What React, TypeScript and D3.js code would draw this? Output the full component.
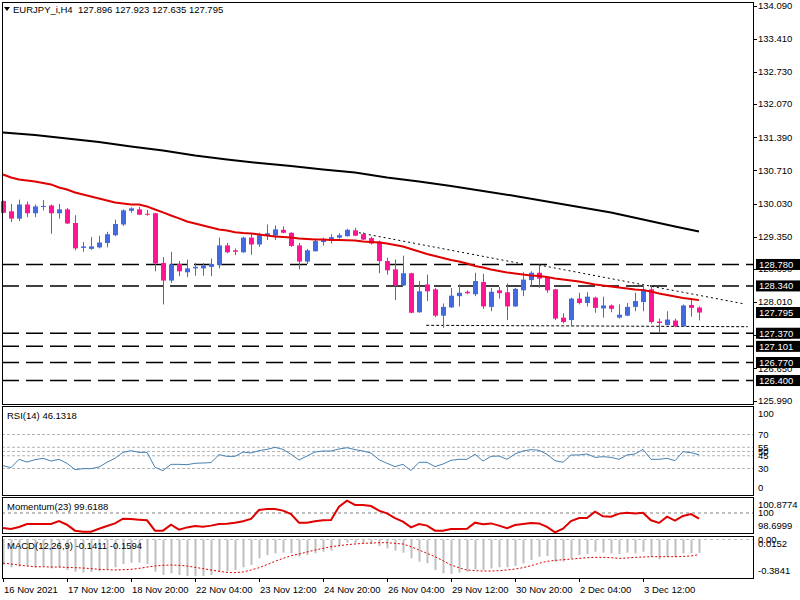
import * as d3 from "d3";

// EURJPY_i H4, one value per bar (bar 0 = 16 Nov 2021 04:00)
const opens = [
  130.08, 129.87, 129.72, 130.01, 129.83, 129.97, 129.99, 129.83, 129.91, 129.63,
  129.12, 129.1, 129.13, 129.22, 129.38, 129.6, 129.88, 129.91, 129.82, 129.83,
  128.81, 128.45, 128.79, 128.62, 128.7, 128.7, 128.73, 128.77, 129.17, 129.07,
  129.03, 129.33, 129.19, 129.37, 129.37, 129.49, 129.43, 129.17, 128.84, 129.05,
  129.24, 129.28, 129.33, 129.36, 129.48, 129.4, 129.32, 129.25, 128.85, 128.68,
  128.35, 128.6, 127.8, 128.37, 128.27, 127.73, 127.9, 128.13, 128.22, 128.17,
  128.42, 127.91, 128.25, 128.21, 127.92, 128.25, 128.46, 128.61, 128.51, 128.27,
  127.69, 127.64, 128.08, 127.99, 128.1, 127.88, 127.94, 127.69, 127.73, 127.91,
  128.01, 128.27, 127.61, 127.54, 127.63, 127.51, 127.95, 127.896,
];
const highs = [
  130.09, 130.02, 130.11, 130.07, 130.01, 130.1, 130.01, 130.02, 129.94, 129.79,
  129.24, 129.34, 129.37, 129.45, 129.7, 129.91, 129.95, 129.96, 129.9, 129.84,
  128.93, 129.04, 128.85, 128.88, 128.81, 128.81, 128.9, 129.33, 129.22, 129.11,
  129.35, 129.4, 129.43, 129.6, 129.58, 129.56, 129.44, 129.22, 129.1, 129.31,
  129.33, 129.4, 129.42, 129.51, 129.53, 129.44, 129.35, 129.27, 128.92, 128.88,
  128.96, 128.61, 128.44, 128.57, 128.3, 127.98, 128.3, 128.37, 128.25, 128.61,
  128.59, 128.3, 128.32, 128.39, 128.3, 128.62, 128.64, 128.78, 128.53, 128.28,
  127.78, 128.1, 128.2, 128.21, 128.12, 128.12, 127.96, 127.96, 127.99, 128.2,
  128.35, 128.35, 127.67, 127.82, 127.67, 127.96, 128.05, 127.923,
];
const lows = [
  129.83, 129.65, 129.67, 129.75, 129.75, 129.89, 129.41, 129.72, 129.61, 129.07,
  129.04, 129.08, 129.11, 129.13, 129.36, 129.57, 129.84, 129.79, 129.78, 128.64,
  127.96, 128.4, 128.54, 128.52, 128.55, 128.55, 128.54, 128.7, 129.01, 128.97,
  129.02, 128.98, 129.14, 129.28, 129.28, 129.42, 129.14, 128.68, 128.79, 129.05,
  129.17, 129.21, 129.31, 129.35, 129.36, 129.28, 129.19, 128.6, 128.57, 128.05,
  128.34, 127.78, 127.79, 128.03, 127.7, 127.48, 127.89, 127.92, 128.17, 128.13,
  127.87, 127.82, 128.08, 127.64, 127.91, 128.13, 128.33, 128.3, 128.2, 127.64,
  127.57, 127.51, 127.96, 127.92, 127.79, 127.69, 127.8, 127.67, 127.72, 127.82,
  127.82, 127.57, 127.37, 127.53, 127.5, 127.5, 127.71, 127.635,
];
const closes = [
  129.84, 129.72, 130.01, 129.83, 129.97, 129.98, 129.83, 129.91, 129.62, 129.11,
  129.15, 129.15, 129.23, 129.4, 129.61, 129.89, 129.93, 129.8, 129.8, 128.8,
  128.45, 128.78, 128.64, 128.7, 128.73, 128.76, 128.79, 129.17, 129.03, 129.04,
  129.33, 129.19, 129.38, 129.42, 129.5, 129.43, 129.16, 128.84, 129.07, 129.26,
  129.29, 129.34, 129.38, 129.49, 129.37, 129.29, 129.21, 128.85, 128.66, 128.35,
  128.6, 127.79, 128.23, 128.23, 127.73, 127.91, 128.14, 128.2, 128.19, 128.44,
  127.92, 128.22, 128.19, 127.92, 128.28, 128.47, 128.61, 128.49, 128.25, 127.67,
  127.6, 128.08, 127.99, 128.12, 127.89, 127.94, 127.87, 127.75, 127.91, 128.03,
  128.27, 127.6, 127.58, 127.65, 127.51, 127.94, 127.89, 127.795,
];

// red moving average, one value per bar
const redMa = [
  130.626, 130.564, 130.523, 130.503, 130.482, 130.451, 130.421, 130.359, 130.318, 130.257,
  130.216, 130.175, 130.134, 130.093, 130.052, 130.031, 130.011, 130.011, 129.97, 129.908,
  129.847, 129.785, 129.724, 129.662, 129.621, 129.58, 129.539, 129.498, 129.478, 129.443,
  129.426, 129.416, 129.396, 129.375, 129.355, 129.344, 129.334, 129.314, 129.303, 129.293,
  129.293, 129.283, 129.283, 129.279, 129.272, 129.252, 129.242, 129.232, 129.211, 129.18,
  129.15, 129.098, 129.047, 128.996, 128.955, 128.914, 128.873, 128.842, 128.801, 128.75,
  128.719, 128.678, 128.647, 128.616, 128.596, 128.575, 128.555, 128.545, 128.524, 128.494,
  128.473, 128.453, 128.432, 128.401, 128.371, 128.35, 128.33, 128.309, 128.289, 128.268,
  128.254, 128.227, 128.186, 128.155, 128.125, 128.094, 128.073, 128.049,
];

// black moving average, read every fourth bar
const blackMaBars = [0, 4, 8, 12, 16, 20, 24, 28, 32, 36, 40, 44, 48, 52, 56, 60, 64, 68, 72, 76, 80, 84, 87];
const blackMa = [
  131.487, 131.435, 131.364, 131.292, 131.2, 131.118, 131.015, 130.933, 130.861, 130.8,
  130.728, 130.667, 130.564, 130.482, 130.39, 130.287, 130.185, 130.072, 129.959, 129.847,
  129.703, 129.56, 129.457,
];

const rsi = [
  33.3, 31.0, 40.8, 37.6, 40.4, 42.0, 38.8, 40.8, 36.1, 28.6,
  29.8, 29.8, 31.8, 37.3, 42.0, 49.0, 51.0, 49.0, 49.0, 31.4,
  27.5, 34.9, 34.9, 34.5, 36.1, 36.5, 36.9, 46.3, 44.3, 44.3,
  49.4, 48.2, 51.0, 52.5, 54.9, 52.5, 46.7, 40.0, 44.7, 49.4,
  50.6, 50.6, 52.9, 54.5, 52.2, 50.6, 48.2, 40.4, 36.1, 32.2,
  34.9, 27.5, 37.3, 37.3, 32.2, 35.3, 39.6, 40.8, 40.8, 46.7,
  38.8, 44.3, 44.7, 40.8, 47.1, 50.6, 52.2, 51.4, 46.7, 39.2,
  37.3, 45.9, 45.9, 47.1, 43.1, 43.9, 43.1, 40.8, 45.9, 47.1,
  52.5, 40.8, 40.8, 42.0, 39.2, 49.8, 48.6, 46.1318,
];
const rsiLevels = [70, 55, 50, 45, 30];

const momentum = [
  98.99, 98.92, 99.06, 99.26, 99.26, 99.26, 99.26, 99.46, 99.21, 98.81,
  98.74, 98.74, 98.94, 99.12, 99.3, 99.62, 99.6, 99.55, 99.51, 98.81,
  98.81, 99.21, 98.88, 99.03, 99.12, 99.08, 99.15, 99.26, 99.28, 99.35,
  99.44, 99.6, 100.2, 100.27, 100.27, 100.16, 99.93, 99.35, 99.35, 99.44,
  99.51, 99.53, 100.43, 100.83, 100.54, 100.54, 100.47, 100.16, 99.98, 99.66,
  99.42, 99.03, 99.26, 99.15, 98.81, 98.81, 98.92, 98.92, 98.94, 99.35,
  99.24, 99.3, 99.15, 98.97, 99.19, 99.26, 99.33, 99.3, 99.06, 98.7,
  98.94, 99.46, 99.66, 99.66, 100.09, 99.78, 99.75, 99.96, 100.02, 99.96,
  100.02, 99.51, 99.33, 99.75, 99.48, 99.8, 99.93, 99.6188,
];

const macdMain = [
  -0.269, -0.293, -0.286, -0.279, -0.293, -0.279, -0.304, -0.293, -0.321, -0.339,
  -0.349, -0.342, -0.335, -0.314, -0.293, -0.258, -0.244, -0.244, -0.258, -0.339,
  -0.374, -0.356, -0.374, -0.384, -0.384, -0.384, -0.374, -0.339, -0.335, -0.321,
  -0.293, -0.269, -0.199, -0.164, -0.146, -0.139, -0.146, -0.181, -0.164, -0.146,
  -0.129, -0.118, -0.069, -0.034, -0.041, -0.041, -0.048, -0.069, -0.094, -0.118,
  -0.139, -0.199, -0.234, -0.251, -0.321, -0.356, -0.363, -0.349, -0.339, -0.314,
  -0.321, -0.304, -0.293, -0.293, -0.279, -0.251, -0.216, -0.181, -0.174, -0.234,
  -0.234, -0.199, -0.164, -0.153, -0.129, -0.139, -0.146, -0.153, -0.139, -0.146,
  -0.129, -0.181, -0.209, -0.181, -0.188, -0.146, -0.146, -0.1411,
];
const macdSignal = [
  -0.248, -0.258, -0.269, -0.279, -0.287, -0.287, -0.29, -0.29, -0.293, -0.297,
  -0.3, -0.307, -0.314, -0.318, -0.321, -0.318, -0.314, -0.304, -0.29, -0.279,
  -0.272, -0.269, -0.272, -0.279, -0.293, -0.307, -0.321, -0.335, -0.346, -0.349,
  -0.342, -0.321, -0.297, -0.265, -0.23, -0.199, -0.171, -0.153, -0.132, -0.111,
  -0.094, -0.076, -0.066, -0.055, -0.048, -0.041, -0.038, -0.034, -0.034, -0.041,
  -0.048, -0.076, -0.111, -0.146, -0.181, -0.223, -0.269, -0.297, -0.321, -0.328,
  -0.332, -0.332, -0.328, -0.321, -0.311, -0.297, -0.276, -0.251, -0.23, -0.22,
  -0.213, -0.206, -0.199, -0.192, -0.188, -0.188, -0.192, -0.199, -0.195, -0.188,
  -0.185, -0.181, -0.181, -0.181, -0.181, -0.178, -0.174, -0.1594,
];

const priceTicks = [134.09, 133.41, 132.73, 132.07, 131.39, 130.71, 130.03, 129.35, 128.69, 128.01, 127.33, 126.65, 125.99];
const levelLines = [128.78, 128.34, 127.37, 127.101, 126.77, 126.4];
const levelLabels = ["128.780", "128.340", "127.370", "127.101", "126.770", "126.400"];
const lastPrice = 127.795;

// trend lines: [bar, price, bar, price]
const trendLines = [
  [44.5, 129.431, 65, 128.79],
  [67, 128.769, 92.75, 127.969],
];
const supportLine = [52.9, 127.533, 93.1, 127.504];

const timeTickBars = [0, 8, 16, 24, 32, 40, 48, 56, 64, 72, 80];
const timeTickLabels = [
  "16 Nov 2021", "17 Nov 12:00", "18 Nov 20:00", "22 Nov 04:00", "23 Nov 12:00", "24 Nov 20:00",
  "26 Nov 04:00", "29 Nov 12:00", "30 Nov 20:00", "2 Dec 04:00", "3 Dec 12:00",
];

const LEFT = 2;
const RIGHT = 753;
const MAIN = { top: 2, bottom: 404 };
const RSI_P = { top: 406, bottom: 495 };
const MOM_P = { top: 497, bottom: 533 };
const MACD_P = { top: 536, bottom: 578 };

const BULL = "#4169e1";
const BEAR = "#ff1493";
const FONT = "'Liberation Sans', Arial, sans-serif";
const FS = 9.5;

export default function App() {
  const x = d3.scaleLinear().domain([0, 87]).range([3, 699]);
  const py = d3.scaleLinear().domain([125.99, 134.09]).range([400.54, 5.5]);
  const ry = d3.scaleLinear().domain([0, 100]).range([494, 409]);
  const my = d3.scaleLinear().domain([98.6999, 100.8774]).range([532.3, 500]);
  const cy = d3.scaleLinear().domain([-0.3841, 0.0152]).range([576, 538]);

  const redPath = d3.line<number>().x((_, i) => x(i)).y((d) => py(d))(redMa) ?? "";
  const blackPath = d3.line<number>().x((_, i) => x(blackMaBars[i])).y((d) => py(d))(blackMa) ?? "";
  const rsiPath = d3.line<number>().x((_, i) => x(i)).y((d) => ry(d))(rsi) ?? "";
  const momPath = d3.line<number>().x((_, i) => x(i)).y((d) => my(d))(momentum) ?? "";
  const sigPath = d3.line<number>().x((_, i) => x(i)).y((d) => cy(d))(macdSignal) ?? "";

  const last = opens.length - 1;
  // max/min labels of a sub-window stay inside its frame
  const clampLabel = (v: number, p: { top: number; bottom: number }) => Math.min(Math.max(v, p.top + 8), p.bottom - 7);

  const panelRect = (p: { top: number; bottom: number }, key: string) => (
    <rect key={key} x={LEFT + 0.5} y={p.top + 0.5} width={RIGHT - LEFT} height={p.bottom - p.top} fill="none" stroke="#000" strokeWidth={1} />
  );

  const axisText = (y: number, label: string, key: string) => (
    <text key={key} x={758} y={y} dy="0.35em" fontSize={FS} fill="#000">{label}</text>
  );

  return (
    <div style={{ width: 800, height: 600 }}>
      <style>{`body{margin:0}`}</style>
      <svg width={800} height={600} style={{ display: "block", fontFamily: FONT }}>
        <rect width={800} height={600} fill="#fff" />

        {/* main panel */}
        {levelLines.map((l, i) => (
          <line key={`lv${i}`} x1={LEFT} x2={RIGHT} y1={py(l)} y2={py(l)} stroke="#000" strokeWidth={1.5} strokeDasharray="17 7" />
        ))}
        <path d={blackPath} fill="none" stroke="#000" strokeWidth={2} />
        {trendLines.map((t, i) => (
          <line key={`tl${i}`} x1={x(t[0])} y1={py(t[1])} x2={x(t[2])} y2={py(t[3])} stroke="#000" strokeWidth={1} strokeDasharray="2 3" />
        ))}
        <line x1={x(supportLine[0])} y1={py(supportLine[1])} x2={x(supportLine[2])} y2={py(supportLine[3])} stroke="#000" strokeWidth={1} strokeDasharray="3 2" />

        {opens.map((o, i) => {
          const c = closes[i];
          const col = c >= o ? BULL : BEAR;
          const cx = Math.round(x(i));
          const top = py(Math.max(o, c));
          const bot = py(Math.min(o, c));
          return (
            <g key={`c${i}`}>
              <line x1={cx + 0.5} x2={cx + 0.5} y1={py(highs[i])} y2={py(lows[i])} stroke={col} strokeWidth={1} />
              <rect x={cx - 2} y={top} width={5} height={Math.max(bot - top, 1)} fill={col} />
            </g>
          );
        })}
        <path d={redPath} fill="none" stroke="#e00000" strokeWidth={2} />

        {panelRect(MAIN, "pm")}
        <polygon points="4,7 10,7 7,11" fill="#000" />
        <text x={13} y={12.5} fontSize={FS} fill="#000" style={{ whiteSpace: "pre" }}>
          {`EURJPY_i,H4  ${opens[last].toFixed(3)} ${highs[last].toFixed(3)} ${lows[last].toFixed(3)} ${closes[last].toFixed(3)}`}
        </text>

        {priceTicks.map((t, i) => (
          <g key={`pt${i}`}>
            <line x1={RIGHT} x2={RIGHT + 4} y1={Math.round(py(t)) + 0.5} y2={Math.round(py(t)) + 0.5} stroke="#000" />
            {axisText(py(t), t.toFixed(3), `ptl${i}`)}
          </g>
        ))}
        {levelLines.map((l, i) => (
          <g key={`lb${i}`}>
            <rect x={756} y={py(l) - 5.5} width={44} height={11} fill="#000" />
            <text x={759} y={py(l)} dy="0.35em" fontSize={FS} fill="#fff">{levelLabels[i]}</text>
          </g>
        ))}
        <rect x={756} y={py(lastPrice) - 5.5} width={44} height={11} fill="#000" />
        <text x={759} y={py(lastPrice)} dy="0.35em" fontSize={FS} fill="#fff">{lastPrice.toFixed(3)}</text>

        {/* RSI */}
        {rsiLevels.map((l) => (
          <line key={`rl${l}`} x1={LEFT} x2={RIGHT} y1={ry(l)} y2={ry(l)} stroke="#b4b4b4" strokeDasharray="3 2" />
        ))}
        <path d={rsiPath} fill="none" stroke="#4682b4" strokeWidth={1} />
        {panelRect(RSI_P, "pr")}
        <text x={7} y={418.5} fontSize={FS} fill="#000">RSI(14) {rsi[last].toFixed(4)}</text>
        {axisText(clampLabel(ry(100), RSI_P), "100", "r100")}
        {rsiLevels.map((l) => axisText(ry(l), String(l), `rt${l}`))}
        {axisText(clampLabel(ry(0), RSI_P), "0", "r0")}

        {/* Momentum */}
        <line x1={LEFT} x2={RIGHT} y1={my(100)} y2={my(100)} stroke="#808080" strokeDasharray="3 3" />
        <path d={momPath} fill="none" stroke="#e00000" strokeWidth={2} />
        {panelRect(MOM_P, "pmo")}
        <text x={7} y={510} fontSize={FS} fill="#000">Momentum(23) {momentum[last].toFixed(4)}</text>
        {axisText(clampLabel(my(100.8774), MOM_P), "100.8774", "m1")}
        {axisText(my(100), "100", "m2")}
        {axisText(clampLabel(my(98.6999), MOM_P), "98.6999", "m3")}

        {/* MACD */}
        <line x1={LEFT} x2={RIGHT} y1={cy(0)} y2={cy(0)} stroke="#c0c0c0" strokeDasharray="3 3" />
        {macdMain.map((v, i) => (
          <rect key={`h${i}`} x={Math.round(x(i)) - 0.5} y={cy(0)} width={2} height={cy(v) - cy(0)} fill="#c0c0c0" />
        ))}
        <path d={sigPath} fill="none" stroke="#e00000" strokeWidth={1} strokeDasharray="2 2" />
        {panelRect(MACD_P, "pc")}
        <text x={7} y={548.5} fontSize={FS} fill="#000">
          MACD(12,26,9) {macdMain[last].toFixed(4)} {macdSignal[last].toFixed(4)}
        </text>
        {axisText(cy(0), "0.00", "c0")}
        {axisText(clampLabel(cy(0.0152), MACD_P), "0.0152", "c1")}
        {axisText(clampLabel(cy(-0.3841), MACD_P), "-0.3841", "c2")}

        {/* time axis */}
        {timeTickBars.map((b, i) => (
          <g key={`tt${i}`}>
            <line x1={Math.round(x(b)) + 0.5} x2={Math.round(x(b)) + 0.5} y1={MACD_P.bottom} y2={MACD_P.bottom + 4} stroke="#000" />
            <text x={Math.round(x(b)) + 1} y={592.5} fontSize={FS} fill="#000">{timeTickLabels[i]}</text>
          </g>
        ))}
      </svg>
    </div>
  );
}
